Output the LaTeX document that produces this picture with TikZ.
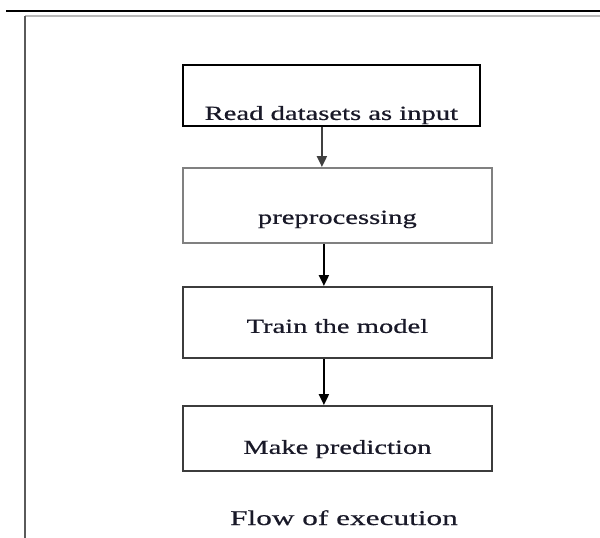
\documentclass[tikz,border=0pt]{standalone}
\usepackage{fontspec}
\setmainfont{Liberation Serif}[FakeStretch=1.43,FakeBold=0.6]
\newfontfamily\capfont{Liberation Serif}[FakeStretch=1.49,FakeBold=0.6]
\usetikzlibrary{arrows.meta}
\definecolor{textc}{RGB}{25,25,40}
\definecolor{framegray}{RGB}{90,90,90}
\definecolor{lightline}{RGB}{185,185,185}
\definecolor{boxgray}{RGB}{60,60,60}
\tikzset{
  stepbox/.style={draw=boxgray, line width=1.8pt, inner ysep=0pt, inner xsep=0pt,
    anchor=north west, text=textc, font=\fontsize{20}{24}\selectfont, align=center},
  arr/.style={line width=2.2pt, draw=black, -{Triangle[length=11pt,width=10pt]}},
}
\begin{document}
\begin{tikzpicture}[x=1pt,y=-1pt]
\useasboundingbox (0,0) rectangle (600,538);
\fill[white] (0,0) rectangle (600,538);
% frame lines
\coordinate (tl) at (6,11);
\coordinate (tr) at (600,11);
\coordinate (gl) at (25,16);
\coordinate (gr) at (600,16);
\coordinate (lb) at (25,538);
\draw[line width=2.4pt, black] (tl) -- (tr);
\draw[line width=1.6pt, lightline] (gl) -- (gr);
\draw[line width=2.4pt, framegray] (gl) -- (lb);
% boxes
\node[stepbox, draw=black, minimum width=297, text height=55, text depth=6] (b1) at (182,64) {Read datasets as input};
\node[stepbox, draw=gray, minimum width=309, text height=56, text depth=19] (b2) at (182,167) {preprocessing};
\node[stepbox, minimum width=309, text height=46, text depth=25] (b3) at (182,286) {Train the model};
\node[stepbox, minimum width=309, text height=48, text depth=17] (b4) at (182,405) {Make prediction};
% caption
\node[anchor=base, text=textc, font=\capfont\fontsize{21}{25}\selectfont] (cap) at (344,525) {Flow of execution};
% arrows
\draw[arr, draw=darkgray] ([xshift=-9.5pt]b1.south) -- ([xshift=-9.5pt]b1.south |- b2.north);
\draw[arr] ([xshift=-13.5pt]b2.south) -- ([xshift=-13.5pt]b2.south |- b3.north);
\draw[arr] ([xshift=-13.5pt]b3.south) -- ([xshift=-13.5pt]b3.south |- b4.north);
\end{tikzpicture}
\end{document}
